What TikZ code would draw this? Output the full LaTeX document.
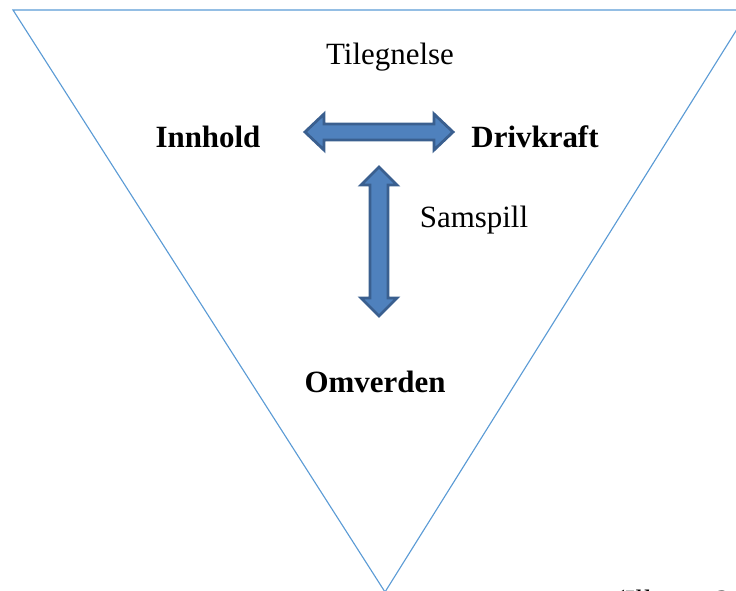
\documentclass[tikz,border=0pt]{standalone}
\usepackage{fontspec}
\setmainfont{Liberation Serif}
\definecolor{edgeblue}{HTML}{5B9BD5}
\definecolor{arrowfill}{HTML}{4F81BD}
\definecolor{arrowline}{HTML}{3A5F8F}
\tikzset{
    label text/.style={font=\fontsize{22}{26}\selectfont, inner sep=0pt, anchor=base},
    key text/.style={label text, font=\fontsize{22}{26}\selectfont\bfseries},
    fat arrow/.style={fill=arrowfill, draw=arrowline, line width=0.07cm, line join=miter},
}
\begin{document}
\begin{tikzpicture}[x=0.025cm, y=-0.025cm]
            \useasboundingbox (0,0) rectangle (736,591);
            \draw[edgeblue, line width=0.8pt] (13,10) -- (749,10) -- (385,592) -- cycle;

            \node[label text] (tilegnelse) at (390,65) {Tilegnelse};
            \node[key text] (innhold) at (208,147) {Innhold};
            \node[key text] (drivkraft) at (535,147) {Drivkraft};
            \node[label text] (samspill) at (474,227) {Samspill};
            \node[key text] (omverden) at (375,392) {Omverden};

            \draw[fat arrow] (305,132) -- (324,114) -- (324,124) -- (434,124) -- (434,114)
                -- (453,132) -- (434,150) -- (434,140) -- (324,140) -- (324,150) -- cycle;
            \draw[fat arrow] (379,167) -- (397,185) -- (388,185) -- (388,298) -- (397,298)
                -- (379,316) -- (361,298) -- (370,298) -- (370,185) -- (361,185) -- cycle;

            \node[label text, anchor=base west, font=\fontsize{22}{26}\selectfont\itshape] (kilde) at (612,611) {(Illustr. 2.1)};
        \end{tikzpicture}
\end{document}
